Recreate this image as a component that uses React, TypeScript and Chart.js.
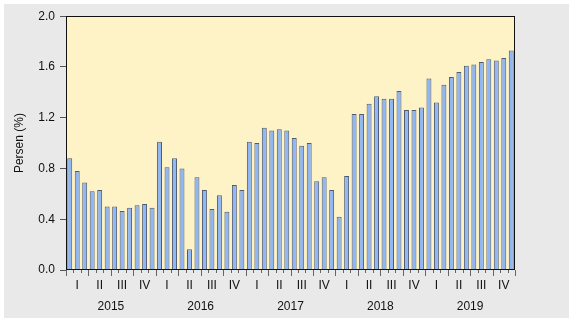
import React, { useEffect, useRef } from "react";
import { Chart, registerables } from "chart.js";

Chart.register(...registerables);

const years = ["2015", "2016", "2017", "2018", "2019"];
const quarters = ["I", "II", "III", "IV"];
const months = ["01", "02", "03", "04", "05", "06", "07", "08", "09", "10", "11", "12"];

const values2015 = [0.88, 0.78, 0.69, 0.62, 0.63, 0.5, 0.5, 0.465, 0.49, 0.51, 0.52, 0.49];
const values2016 = [1.01, 0.81, 0.88, 0.8, 0.163, 0.73, 0.63, 0.48, 0.59, 0.46, 0.67, 0.63];
const values2017 = [1.01, 1.0, 1.12, 1.1, 1.11, 1.1, 1.04, 0.98, 1.0, 0.7, 0.73, 0.63];
const values2018 = [0.42, 0.74, 1.23, 1.23, 1.31, 1.37, 1.35, 1.35, 1.41, 1.26, 1.26, 1.28];
const values2019 = [1.51, 1.32, 1.46, 1.52, 1.56, 1.61, 1.62, 1.64, 1.66, 1.65, 1.67, 1.73];

const yTicks = [0, 0.4, 0.8, 1.2, 1.6, 2.0];
const yTitle = "Persen (%)";

const FONT = "Liberation Sans, Arial, Helvetica, sans-serif";

export default function App() {
  const canvasRef = useRef<HTMLCanvasElement | null>(null);

  useEffect(() => {
    const canvas = canvasRef.current;
    if (!canvas) return;

    const labels: string[] = [];
    years.forEach((y) => months.forEach((m) => labels.push(y + "M" + m)));
    const data = [...values2015, ...values2016, ...values2017, ...values2018, ...values2019];

    const framePlugin = {
      id: "frame",
      beforeDatasetsDraw(chart: any) {
        const { ctx, chartArea } = chart;
        ctx.save();
        ctx.fillStyle = "#fdf3c6";
        ctx.fillRect(chartArea.left, chartArea.top, chartArea.right - chartArea.left, chartArea.bottom - chartArea.top);
        ctx.restore();
      },
      afterDraw(chart: any) {
        const { ctx, chartArea } = chart;
        const xs = chart.scales.x;
        ctx.save();
        ctx.strokeStyle = "#111";
        ctx.lineWidth = 1;
        ctx.strokeRect(
          Math.round(chartArea.left) + 0.5,
          Math.round(chartArea.top) + 0.5,
          Math.round(chartArea.right - chartArea.left) - 1,
          Math.round(chartArea.bottom - chartArea.top) - 1
        );
        // x ticks at month boundaries
        const step = xs.getPixelForValue(1) - xs.getPixelForValue(0);
        const n = labels.length;
        ctx.strokeStyle = "#666";
        for (let i = 0; i <= n; i++) {
          const x = Math.round(xs.getPixelForValue(0) - step / 2 + i * step) + 0.5;
          const len = i % 3 === 0 ? 6 : 3;
          ctx.beginPath();
          ctx.moveTo(x, chartArea.bottom);
          ctx.lineTo(x, chartArea.bottom + len);
          ctx.stroke();
        }
        ctx.fillStyle = "#111";
        ctx.font = "12px " + FONT;
        ctx.textAlign = "center";
        ctx.textBaseline = "middle";
        years.forEach((yr, yi) => {
          quarters.forEach((q, qi) => {
            const idx = yi * 12 + qi * 3 + 1;
            ctx.fillText(q, xs.getPixelForValue(idx), chartArea.bottom + 16);
          });
          const c = (xs.getPixelForValue(yi * 12 + 5) + xs.getPixelForValue(yi * 12 + 6)) / 2;
          ctx.fillText(yr, c, chartArea.bottom + 37);
        });
        ctx.restore();
      },
    };

    const chart = new Chart(canvas, {
      type: "bar",
      data: {
        labels,
        datasets: [
          {
            data,
            backgroundColor: "#8fb6f5",
            borderColor: "#505b72",
            borderWidth: { left: 1, top: 1, right: 1, bottom: 0 },
            borderSkipped: "bottom",
            barPercentage: 0.66,
            categoryPercentage: 1,
          },
        ],
      },
      options: {
        responsive: false,
        maintainAspectRatio: false,
        animation: false,
        layout: { padding: { left: 0, right: 54, top: 12, bottom: 0 } },
        plugins: { legend: { display: false }, tooltip: { enabled: false } },
        scales: {
          x: {
            type: "category",
            offset: true,
            ticks: { display: false },
            grid: { display: false },
            border: { display: false },
            afterFit(scale: any) {
              scale.height = 48;
            },
          },
          y: {
            min: 0,
            max: 2,
            afterBuildTicks(scale: any) {
              scale.ticks = yTicks.map((v) => ({ value: v }));
            },
            ticks: {
              padding: 5,
              color: "#111",
              font: { family: FONT, size: 12 },
              callback: (v: any) => Number(v).toFixed(1),
            },
            grid: { drawOnChartArea: false, drawTicks: true, tickLength: 6, color: "#555" },
            border: { display: false },
            title: {
              display: true,
              text: yTitle,
              color: "#111",
              font: { family: FONT, size: 12 },
              padding: { top: 8, bottom: 0 },
            },
            afterFit(scale: any) {
              scale.width = 62;
            },
          },
        },
      },
      plugins: [framePlugin],
    });

    return () => chart.destroy();
  }, []);

  return (
    <div style={{ position: "absolute", left: 0, top: 0, width: 574, height: 323, background: "#ffffff" }}>
      <div style={{ position: "absolute", left: 4, top: 4, width: 565, height: 314, background: "#e9e9e9" }}>
        <canvas ref={canvasRef} width={565} height={314} style={{ display: "block" }} />
      </div>
    </div>
  );
}
